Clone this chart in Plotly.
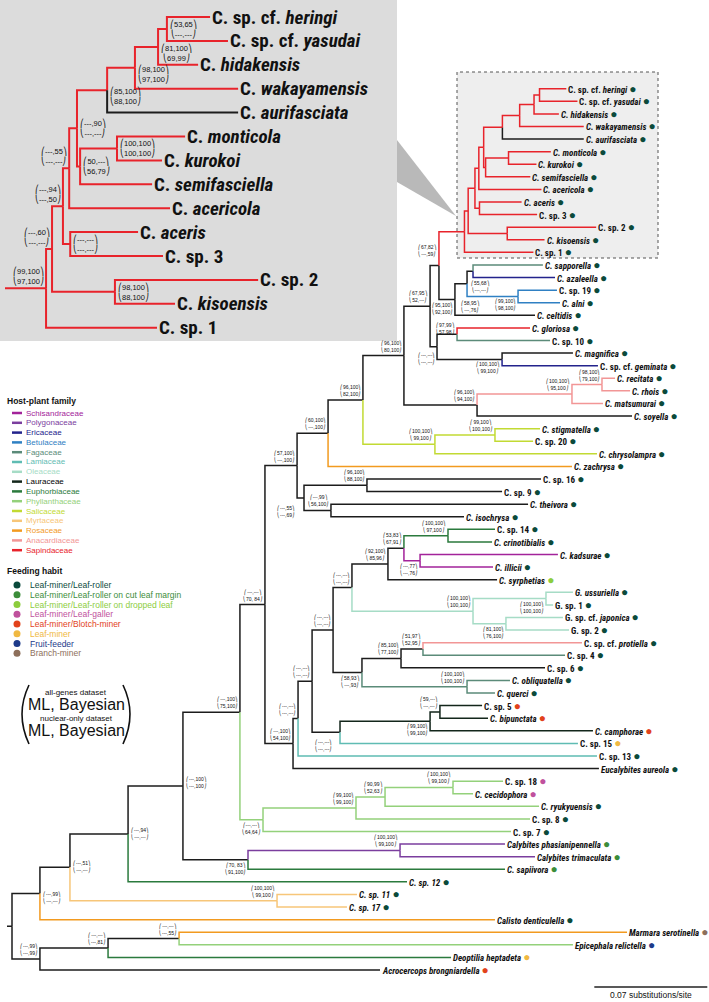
import plotly.graph_objects as go

W, H = 709, 1002

# ---------------------------------------------------------------- tree data
# internal nodes: id, parent, depth from root (substitutions/site), host family of incoming branch
node_ids = ["root", "A", "B", "C", "D", "E", "F", "G", "H", "J", "K", "I", "M", "M2", "M3", "M4",
            "L", "N", "N2", "N3", "N5", "N6", "N7", "N4", "N12", "N13", "N15", "N16", "N17",
            "N14", "N18", "N19", "N8", "N9", "N11", "N10", "O", "S", "T", "U", "W", "AG", "RR",
            "R1", "R2", "R3", "R4", "R5", "R7", "R8", "RHY", "R6", "RMK", "RAS", "RSK",
            "AF", "AE", "AC", "AD", "AB", "AH", "AI", "X", "Y", "Z", "V", "V2", "P", "Q", "R"]
node_parents = [None, "root", "root", "B", "C", "A", "E", "E", "F", "H", "J", "H", "I", "M", "M2", "M3",
                "I", "L", "N", "N2", "N3", "N5", "N6", "N3", "N4", "N12", "N13", "N15", "N15",
                "N12", "N14", "N14", "N4", "N8", "N9", "N8", "L", "O", "S", "T", "U", "W", "AG",
                "RR", "R1", "R2", "R3", "R4", "R5", "R7", "R8", "R4", "R6", "R2", "R1",
                "AG", "AF", "AE", "AE", "W", "AB", "AB", "U", "X", "Y", "T", "V", "O", "P", "P"]
node_depth = [0.0, 0.0173, 0.0173, 0.0595, 0.1035, 0.0359, 0.0719, 0.1642, 0.1059, 0.1462, 0.2404,
              0.1412, 0.1555, 0.2131, 0.2311, 0.2732,
              0.1567, 0.1741, 0.1772, 0.1859, 0.2032, 0.2590, 0.2651, 0.1989, 0.2106, 0.2329, 0.2428,
              0.2701, 0.2528,
              0.2856, 0.3308, 0.3060, 0.2168, 0.2410, 0.2546, 0.2819, 0.1766, 0.1958, 0.2174, 0.2428,
              0.2590, 0.2645, 0.2803,
              0.2826, 0.2868, 0.2892, 0.2922, 0.3038, 0.3145, 0.3234, 0.3268, 0.2934, 0.3076, 0.2896, 0.3068,
              0.2744, 0.2819, 0.2856, 0.3135, 0.2633, 0.2757, 0.3036, 0.2881, 0.3469, 0.3655, 0.2620,
              0.2992, 0.1809, 0.2199, 0.1976]
node_family = ["none", "none", "none", "none", "none", "none", "none", "Myrtaceae", "none", "none",
               "Polygonaceae", "none", "Phyllanthaceae", "Phyllanthaceae", "Phyllanthaceae", "Phyllanthaceae",
               "none", "none", "none", "none", "none", "Lauraceae", "Lauraceae", "none", "none", "none", "none",
               "Euphorbiaceae", "Schisandraceae",
               "Oleaceae", "Oleaceae", "Oleaceae", "none", "none", "none", "Fagaceae", "none", "none", "none",
               "none", "none", "none", "Sapindaceae",
               "Sapindaceae", "Sapindaceae", "Sapindaceae", "Sapindaceae", "Sapindaceae", "Sapindaceae",
               "Sapindaceae", "Sapindaceae", "Sapindaceae", "Sapindaceae", "Sapindaceae", "Sapindaceae",
               "none", "none", "none", "Betulaceae", "none", "none", "none", "none", "Anacardiaceae",
               "Anacardiaceae", "Salicaceae", "Salicaceae", "none", "none", "none"]

# tips (top to bottom)
tip_names = ["C. sp. cf. heringi", "C. sp. cf. yasudai", "C. hidakensis", "C. wakayamensis",
             "C. aurifasciata", "C. monticola", "C. kurokoi", "C. semifasciella", "C. acericola",
             "C. aceris", "C. sp. 3", "C. sp. 2", "C. kisoensis", "C. sp. 1",
             "C. sapporella", "C. azaleella", "C. sp. 19", "C. alni", "C. celtidis", "C. gloriosa",
             "C. sp. 10", "C. magnifica", "C. sp. cf. geminata", "C. recitata", "C. rhois",
             "C. matsumurai", "C. soyella", "C. stigmatella", "C. sp. 20", "C. chrysolampra",
             "C. zachrysa", "C. sp. 16", "C. sp. 9", "C. theivora", "C. isochrysa", "C. sp. 14",
             "C. crinotibialis", "C. kadsurae", "C. illicii", "C. syrphetias", "G. ussuriella",
             "G. sp. 1", "G. sp. cf. japonica", "G. sp. 2", "C. sp. cf. protiella", "C. sp. 4",
             "C. sp. 6", "C. obliquatella", "C. querci", "C. sp. 5", "C. bipunctata", "C. camphorae",
             "C. sp. 15", "C. sp. 13", "Eucalybites aureola", "C. sp. 18", "C. cecidophora",
             "C. ryukyuensis", "C. sp. 8", "C. sp. 7", "Calybites phasianipennella",
             "Calybites trimaculata", "C. sapiivora", "C. sp. 12", "C. sp. 11", "C. sp. 17",
             "Calisto denticulella", "Marmara serotinella", "Epicephala relictella",
             "Deoptilia heptadeta", "Acrocercops brongniardella"]
tip_parents = ["RHY", "RHY", "R8", "R7", "R5", "RMK", "RMK", "R6", "R3", "RAS", "RAS", "RSK", "RSK", "RR",
               "AC", "AC", "AD", "AD", "AF", "AH", "AH", "AI", "AI", "Z", "Z", "Y", "X", "V2", "V2", "V",
               "S", "Q", "Q", "R", "R", "N16", "N16", "N17", "N17", "N13", "N18", "N18", "N19", "N19",
               "N11", "N11", "N9", "N10", "N10", "N7", "N7", "N6", "N5", "N2", "N", "M4", "M4", "M3",
               "M2", "M", "K", "K", "J", "F", "G", "G", "A", "D", "D", "C", "B"]
tip_depth = [0.3434, 0.3503, 0.3388, 0.3542, 0.3542, 0.3338, 0.3249, 0.3211, 0.3280, 0.3157, 0.3253,
             0.3619, 0.3299, 0.3230,
             0.3289, 0.3364, 0.3376, 0.3395, 0.3240, 0.3209, 0.3333, 0.3475, 0.3630, 0.3736, 0.3829,
             0.3661, 0.3841, 0.3271, 0.3228, 0.3624, 0.3469, 0.3277, 0.3036, 0.3197, 0.2800, 0.2992,
             0.2974, 0.3382, 0.2980, 0.3005, 0.3475, 0.3352, 0.3413, 0.3451, 0.3531, 0.3426, 0.3302,
             0.3085, 0.2992, 0.2912, 0.2949, 0.3599, 0.3506, 0.3624, 0.3636, 0.3042, 0.2856, 0.3265,
             0.3209, 0.3091, 0.3054, 0.3240, 0.3054, 0.2447, 0.2137, 0.2075, 0.2992, 0.3810, 0.3475,
             0.2720, 0.2280]
tip_family = ["Sapindaceae"] * 4 + ["none"] + ["Sapindaceae"] * 9 + [
    "Fagaceae", "Ericaceae", "Betulaceae", "Betulaceae", "none", "Sapindaceae", "Fagaceae", "none",
    "Ericaceae", "Anacardiaceae", "Anacardiaceae", "Anacardiaceae", "none", "Salicaceae", "Salicaceae",
    "Salicaceae", "Rosaceae", "none", "none", "none", "none", "Euphorbiaceae", "Euphorbiaceae",
    "Schisandraceae", "Schisandraceae", "none", "Oleaceae", "Oleaceae", "Oleaceae", "Oleaceae",
    "Anacardiaceae", "Fagaceae", "none", "Fagaceae", "Fagaceae", "Lauraceae", "Lauraceae", "Lauraceae",
    "Lamiaceae", "Lamiaceae", "none", "Phyllanthaceae", "Phyllanthaceae", "Phyllanthaceae",
    "Phyllanthaceae", "Phyllanthaceae", "Polygonaceae", "Polygonaceae", "Euphorbiaceae", "Euphorbiaceae",
    "Myrtaceae", "Myrtaceae", "Rosaceae", "Rosaceae", "Phyllanthaceae", "Euphorbiaceae", "none"]
tip_habit = ["LR"] * 39 + ["DROP"] + ["LR"] * 9 + ["BLOTCH", "BLOTCH", "BLOTCH", "MINER", "LR", "LR",
             "GALL", "GALL", "LR", "LR", "LR", "CUT", "CUT", "CUT", "LR", "LR", "LR", "LR",
             "BRANCH", "FRUIT", "MINER", "BLOTCH"]

# node support: (ML, Bayesian) all-genes / nuclear-only
support_nodes = ["A", "B", "C", "D", "E", "F", "G", "H", "I", "J", "K", "L", "M", "M2", "M3", "M4",
                 "N", "N2", "N3", "N4", "N5", "N6", "N7", "N8", "N9", "N10", "N11", "N12", "N13", "N14",
                 "N15", "N16", "N17", "N18", "N19", "O", "P", "Q", "R", "S", "T", "U", "V", "V2", "X", "Y",
                 "Z", "W", "AB", "AH", "AI", "AG", "AF", "AE", "AC", "AD",
                 "RR", "R1", "R2", "R3", "R4", "RAS", "R6", "RMK", "R5", "R7", "R8", "RHY", "RSK"]
support_all = ["---,99", "---,99", "---,---", "---,---", "---,51", "---,94", "100,100", "---,100",
               "---,100", "70, 83", "100,100", "---,---", "---,---", "99,100", "90,99", "100,100",
               "---,100", "---,---", "---,---", "---,---", "---,---", "99,100", "59,---", "58,93",
               "85,100", "100,100", "51,97", "---,---", "92,100", "100,100", "53,83", "100,100",
               "---,77", "100,100", "81,100", "57,100", "---,55", "96,100", "---,99", "60,100",
               "96,100", "96,100", "100,100", "99,100", "96,100", "100,100", "98,100", "67,95",
               "---,---", "97,99", "100,100", "67,82", "95,100", "58,95", "55,68", "99,100",
               "99,100", "---,60", "---,94", "---,55", "---,90", "---,---", "50,---", "100,100",
               "85,100", "98,100", "81,100", "53,65", "98,100"]
support_nuc = ["---,---", "---,99", "---,81", "---,55", "---,---", "---,---", "99,100", "---,100",
               "75,100", "91,100", "99,100", "70, 84", "64,64", "99,100", "52,63", "99,100",
               "54,100", "---,---", "---,---", "---,---", "---,---", "99,100", "---,---", "---,93",
               "77,100", "100,100", "52,95", "---,---", "85,96", "100,100", "67,91", "97,100",
               "---,76", "100,100", "76,100", "---,100", "---,69", "88,100", "56,100", "---,100",
               "82,100", "80,100", "99,100", "100,100", "94,100", "95,100", "79,100", "52,---",
               "---,---", "57,98", "99,100", "---,59", "92,100", "---,76", "---,---", "98,100",
               "97,100", "---,---", "---,50", "---,---", "---,---", "---,---", "56,79", "100,100",
               "88,100", "97,100", "69,99", "---,---", "88,100"]

legend_families = ["Schisandraceae", "Polygonaceae", "Ericaceae", "Betulaceae", "Fagaceae", "Lamiaceae",
                   "Oleaceae", "Lauraceae", "Euphorbiaceae", "Phyllanthaceae", "Salicaceae", "Myrtaceae",
                   "Rosaceae", "Anacardiaceae", "Sapindaceae"]
habit_keys = ["LR", "CUT", "DROP", "GALL", "BLOTCH", "MINER", "FRUIT", "BRANCH"]
habit_labels = ["Leaf-miner/Leaf-roller", "Leaf-miner/Leaf-roller on cut leaf margin",
                "Leaf-miner/Leaf-roller on dropped leaf", "Leaf-miner/Leaf-galler",
                "Leaf-miner/Blotch-miner", "Leaf-miner", "Fruit-feeder", "Branch-miner"]
scale_length = 0.07

# ---------------------------------------------------------------- styles
FAM_COL = {
    "none": "#1c1c1c", "Schisandraceae": "#a3239a", "Polygonaceae": "#7b3e9e", "Ericaceae": "#23238c",
    "Betulaceae": "#2f80c3", "Fagaceae": "#5b8b79", "Lamiaceae": "#5fbcb3", "Oleaceae": "#a6dcc6",
    "Lauraceae": "#13261b", "Euphorbiaceae": "#2b7a3d", "Phyllanthaceae": "#94d17b",
    "Salicaceae": "#c2da33", "Myrtaceae": "#f7c679", "Rosaceae": "#f29a1f", "Anacardiaceae": "#f29696",
    "Sapindaceae": "#e8232b"}
LEG_TEXT = dict(FAM_COL, Lauraceae="#000000")
HAB_COL = {"LR": "#0b4a3b", "CUT": "#3c8d3a", "DROP": "#8ccd3d", "GALL": "#c0519d",
           "BLOTCH": "#e2421b", "MINER": "#f0b942", "FRUIT": "#1d3a8a", "BRANCH": "#8d6f5b"}
NARROW = "Liberation Sans Narrow, Roboto Condensed, Arial Narrow, Roboto, sans-serif"
SANS = "Liberation Sans, Arial, Helvetica, sans-serif"
ITALIC_SP = {"C. sp. 11", "C. sp. 12", "C. sp. 17"}

# pixel frame of the main panel (axes span the whole page)
PX_PER_SUB = 1 / 0.0006195
ROOT_PX, ROW0_PX, ROW_PX = 12, 88.7, 12.59
# inset panel
IN_W, IN_H = 397, 341
IN_X0, IN_SCALE = 5, 1.61
IN_ROW0, IN_ROW = 17, 23.9

# label placements: (mode, dx, dy)  px
PLACE = {"A": ("r", 0, 5), "E": ("r", 0, 0), "F": ("r", 0, 0), "H": ("r", 0, -3),
         "J": ("ll", 0, 0), "M": ("ll", 0, 0), "N5": ("ll", -6, 5), "N6": ("ll", 0, 0),
         "N8": ("ll", 0, 0), "N17": ("ll", 0, 0), "N18": ("ll", 0, 0), "N19": ("ll", 0, 0),
         "P": ("ll", -7, 5), "AB": ("ll", 0, 3), "AH": ("ul", 0, 4), "AI": ("ll", 0, 0),
         "AG": ("ul", 0, -6), "AF": ("ll", 0, 0), "AE": ("ll", 15, 14), "AC": ("ll", 19, 7),
         "AD": ("ll", 0, 0),
         "R4": ("r", 0, 0), "RAS": ("r", 0, 0), "R6": ("r", 0, 0), "RMK": ("r", 0, 0),
         "R5": ("r", 0, 6), "R7": ("r", 0, 6), "R8": ("r", 0, 6), "RHY": ("r", 0, 0), "RSK": ("r", 0, 0)}

# ---------------------------------------------------------------- tree layout
depth = dict(zip(node_ids, node_depth)); depth.update(zip(tip_names, tip_depth))
parent = dict(zip(node_ids, node_parents)); parent.update(zip(tip_names, tip_parents))
fam = dict(zip(node_ids, node_family)); fam.update(zip(tip_names, tip_family))
row = {t: i for i, t in enumerate(tip_names)}
kids = {}
for c, p in parent.items():
    if p is not None:
        kids.setdefault(p, []).append(c)


def get_y(n):
    if n in row:
        return row[n]
    ys = [get_y(c) for c in kids[n]]
    return (min(ys) + max(ys)) / 2


ypos = {n: get_y(n) for n in parent}


def descendants(n):
    out = [n]
    for c in kids.get(n, []):
        out += descendants(c)
    return out


red = set(descendants("RR"))

fig = go.Figure()


def add_edges(pairs, xa, ya, width):
    groups = {}
    for p, c in pairs:
        col = FAM_COL[fam[c]]
        xs, ys = groups.setdefault(col, ([], []))
        xs += [depth[p], depth[p], depth[c], None]
        ys += [ypos[p], ypos[c], ypos[c], None]
    for col, (xs, ys) in groups.items():
        fig.add_trace(go.Scatter(x=xs, y=ys, mode="lines", xaxis=xa, yaxis=ya,
                                 line=dict(color=col, width=width), hoverinfo="skip",
                                 showlegend=False))


main_pairs = [(p, c) for c, p in parent.items() if p is not None]
add_edges(main_pairs, "x", "y", 1.5)
# root stem
fig.add_trace(go.Scatter(x=[-5 / PX_PER_SUB, 0], y=[ypos["root"]] * 2, mode="lines",
                         line=dict(color=FAM_COL["none"], width=1.5), hoverinfo="skip", showlegend=False))
# inset subtree
in_pairs = [(parent[c], c) for c in red if c != "RR"]
add_edges(in_pairs, "x2", "y2", 2)
fig.add_trace(go.Scatter(x=[depth["AG"], depth["RR"]], y=[ypos["RR"]] * 2, mode="lines",
                         xaxis="x2", yaxis="y2", line=dict(color=FAM_COL["Sapindaceae"], width=2),
                         hoverinfo="skip", showlegend=False))

# scale bar
sb_x1 = (707.3 - ROOT_PX) / PX_PER_SUB
sb_row = len(tip_names) - 1 + 1.35
fig.add_trace(go.Scatter(x=[sb_x1 - scale_length, sb_x1], y=[sb_row, sb_row], mode="lines",
                         line=dict(color="#222", width=1.6), hoverinfo="skip", showlegend=False))
ann = []
ann.append(dict(x=sb_x1 - scale_length / 2, y=sb_row, xref="x", yref="y", text="0.07 substitutions/site",
                showarrow=False, yanchor="top", yshift=-2, borderpad=0,
                font=dict(family=SANS, size=8.5, color="#111")))


# ---------------------------------------------------------------- labels
def fmt(name, inset):
    parts = name.split(" ")
    genus, rest = parts[0], parts[1:]
    if rest[0] == "sp.":
        if "cf." in rest:
            k = rest.index("cf.")
            return genus + " " + " ".join(rest[:k + 1]) + " <i>" + " ".join(rest[k + 1:]) + "</i>"
        if name in ITALIC_SP and not inset:
            return "<i>" + name + "</i>"
        return name
    if inset:
        return genus + " <i>" + " ".join(rest) + "</i>"
    return "<i>" + name + "</i>"


for t, h in zip(tip_names, tip_habit):
    txt = fmt(t, False) + ' <span style="color:%s;font-size:12px">\u25cf</span>' % HAB_COL[h]
    ann.append(dict(x=depth[t], y=row[t], xref="x", yref="y", text=txt, showarrow=False,
                    xanchor="left", yanchor="middle", xshift=1, borderpad=0,
                    font=dict(family=NARROW, size=9, color="#111", weight="bold")))
    if t in red:
        ann.append(dict(x=depth[t], y=row[t], xref="x2", yref="y2", text=fmt(t, True), showarrow=False,
                        xanchor="left", yanchor="middle", xshift=1, borderpad=0,
                        font=dict(family=NARROW, size=19, color="#111", weight="bold")))

for n, a, b in zip(support_nodes, support_all, support_nuc):
    inset = n in red
    mode, dx, dy = PLACE.get(n, ("ul", 0, 0))
    txt = "\u239b%s\u239e<br>\u239d%s\u23a0" % (a, b)
    d = dict(x=depth[n], y=ypos[n], xref="x2" if inset else "x", yref="y2" if inset else "y",
             text=txt, showarrow=False, borderpad=0,
             font=dict(family=SANS, size=7.5 if inset else 5, color="#111"))
    if mode == "ul":
        d.update(xanchor="right", yanchor="bottom", xshift=-1 + dx, yshift=1 - dy)
    elif mode == "ll":
        d.update(xanchor="right", yanchor="top", xshift=-1 + dx, yshift=-1 - dy)
    else:
        d.update(xanchor="left", yanchor="middle", xshift=2 + dx, yshift=-dy)
    ann.append(d)


def px(x, y):
    return x / W, 1 - y / H


# legend: host-plant family
shapes = []
ann.append(dict(x=px(5, 0)[0], y=px(0, 401)[1], xref="paper", yref="paper", text="<b>Host-plant family</b>",
                showarrow=False, xanchor="left", yanchor="middle",
                font=dict(family=SANS, size=8.5, color="#111")))
for i, f in enumerate(legend_families):
    yy = 413 + 9.8 * i
    (x0, y0), (x1, _) = px(12, yy), px(22, yy)
    shapes.append(dict(type="line", xref="paper", yref="paper", x0=x0, x1=x1, y0=y0, y1=y0,
                       line=dict(color=FAM_COL[f], width=2.5)))
    ann.append(dict(x=px(24, 0)[0], y=y0, xref="paper", yref="paper", text=f, showarrow=False,
                    xanchor="left", yanchor="middle", font=dict(family=SANS, size=8, color=LEG_TEXT[f])))

ann.append(dict(x=px(5, 0)[0], y=px(0, 571)[1], xref="paper", yref="paper", text="<b>Feeding habit</b>",
                showarrow=False, xanchor="left", yanchor="middle",
                font=dict(family=SANS, size=8.5, color="#111")))
for i, (k, lab) in enumerate(zip(habit_keys, habit_labels)):
    yy = 585 + 9.75 * i
    (x0, y0), (x1, y1) = px(13.5, yy - 3.5), px(20.5, yy + 3.5)
    shapes.append(dict(type="circle", xref="paper", yref="paper", x0=x0, x1=x1, y0=y1, y1=y0,
                       fillcolor=HAB_COL[k], line=dict(width=0)))
    ann.append(dict(x=px(28, 0)[0], y=px(0, yy)[1], xref="paper", yref="paper", text=lab, showarrow=False,
                    xanchor="left", yanchor="middle", font=dict(family=SANS, size=8.5, color=HAB_COL[k])))

# support-value key
for txt, yy, sz in [("all-genes dataset", 692, 8), ("ML, Bayesian", 704, 16),
                    ("nuclear-only dataset", 718, 8), ("ML, Bayesian", 730, 16)]:
    ann.append(dict(x=px(76, 0)[0], y=px(0, yy)[1], xref="paper", yref="paper", text=txt, showarrow=False,
                    xanchor="center", yanchor="middle", font=dict(family=SANS, size=sz, color="#111")))


def path(points, close=False):
    s = ""
    for cmd, pts in points:
        s += cmd + " " + " ".join("%.5f,%.5f" % px(x, y) for x, y in pts) + " "
    return s + ("Z" if close else "")


shapes.append(dict(type="path", xref="paper", yref="paper",
                   path=path([("M", [(29, 685)]), ("Q", [(15, 714), (29, 744)])]),
                   line=dict(color="#111", width=1.6)))
shapes.append(dict(type="path", xref="paper", yref="paper",
                   path=path([("M", [(123, 685)]), ("Q", [(137, 714), (123, 744)])]),
                   line=dict(color="#111", width=1.6)))

# inset background, pointer and dotted box
shapes.append(dict(type="rect", xref="paper", yref="paper", x0=0, x1=IN_W / W, y0=1 - IN_H / H, y1=1,
                   fillcolor="#dcdcdc", line=dict(width=0), layer="below"))
shapes.append(dict(type="path", xref="paper", yref="paper",
                   path=path([("M", [(IN_W, 140)]), ("L", [(IN_W, 182)]), ("L", [(456, 216)])], True),
                   fillcolor="#b9b9b9", line=dict(width=0), layer="below"))
bx0, by0 = px(457, 72)
bx1, by1 = px(658, 258)
shapes.append(dict(type="rect", xref="paper", yref="paper", x0=bx0, x1=bx1, y0=by1, y1=by0,
                   fillcolor="#eeeeee", line=dict(color="#555", width=1, dash="dot"), layer="below"))

# ---------------------------------------------------------------- axes
x_lo = -ROOT_PX / PX_PER_SUB
x_hi = (W - ROOT_PX) / PX_PER_SUB
y_top = -ROW0_PX / ROW_PX
y_bot = (H - ROW0_PX) / ROW_PX
ix_lo = depth["AG"] - IN_X0 / (PX_PER_SUB * IN_SCALE)
ix_hi = depth["AG"] + (IN_W - IN_X0) / (PX_PER_SUB * IN_SCALE)
iy_top = -IN_ROW0 / IN_ROW
iy_bot = (IN_H - IN_ROW0) / IN_ROW

ax = dict(visible=False, fixedrange=True)
fig.update_layout(
    width=W, height=H, margin=dict(l=0, r=0, t=0, b=0), paper_bgcolor="white", plot_bgcolor="rgba(0,0,0,0)",
    xaxis=dict(range=[x_lo, x_hi], domain=[0, 1], **ax),
    yaxis=dict(range=[y_bot, y_top], domain=[0, 1], **ax),
    xaxis2=dict(range=[ix_lo, ix_hi], domain=[0, IN_W / W], anchor="y2", **ax),
    yaxis2=dict(range=[iy_bot, iy_top], domain=[1 - IN_H / H, 1], anchor="x2", **ax),
    annotations=ann, shapes=shapes, showlegend=False,
)
fig.write_html("out.html", config={"displayModeBar": False},
               post_script="document.body.style.margin='0px';document.body.style.overflow='hidden';")
